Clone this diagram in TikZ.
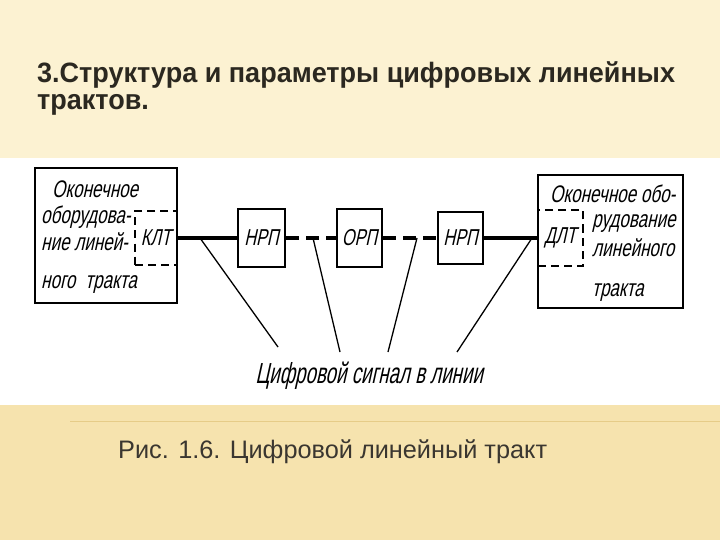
\documentclass[tikz,border=0pt]{standalone}
\usepackage{fontspec}
\setmainfont{Liberation Sans}
\newfontfamily\titlefont[FakeStretch=0.965]{Liberation Sans}
\newfontfamily\gostfont[FakeSlant=0.22,FakeStretch=0.71]{Liberation Sans}
\newfontfamily\gostnarrow[FakeSlant=0.22,FakeStretch=0.645]{Liberation Sans}
\definecolor{slidetop}{HTML}{FCF2D2}
\definecolor{slidebot}{HTML}{F6E3AE}
\definecolor{rulegold}{HTML}{E6CC88}
\definecolor{titleink}{HTML}{2B2820}
\definecolor{capink}{HTML}{3A3630}
\tikzset{
  box/.style={draw, line width=2pt, inner sep=0pt},
  dbox/.style={draw, line width=2pt, dash pattern=on 8pt off 5pt, inner sep=0pt},
  boxtext/.style={inner sep=0pt, anchor=base west, font=\gostfont\fontsize{24}{26}\selectfont},
  tag/.style={font=\gostfont\fontsize{23}{24}\selectfont},
  sigline/.style={line width=4.5pt},
  dashline/.style={sigline, dash pattern=on 13pt off 7pt},
  pointer/.style={line width=1.3pt}
}
\begin{document}
\begin{tikzpicture}[x=1pt,y=-1pt]
  \useasboundingbox (0,0) rectangle (720,540);
  % slide background
  \fill[slidetop] (0,0) rectangle (720,158);
  \fill[white] (0,158) rectangle (720,405);
  \fill[slidebot] (0,405) rectangle (720,540);
  \draw[rulegold, line width=1pt] (70,421) -- (720,421);

  \node[inner sep=0pt, anchor=base west, align=left, text=titleink,
        font=\titlefont\bfseries\fontsize{28}{25}\selectfont] (title) at (37,110)
        {3.Структура и параметры цифровых линейных\\[2pt]трактов.};

  % terminal equipment, left
  \node[box, minimum width=142pt, minimum height=135pt] (leftend) at (106,235.5) {};
  \node[dbox, tag, minimum width=42pt, minimum height=53pt] (klt) at (156,238) {КЛТ};
  \node[boxtext] (lt1) at (52,198) {Оконечное};
  \node[boxtext] (lt2) at (41,224) {оборудова-};
  \node[boxtext] (lt3) at (41,251) {ние линей-};
  \node[boxtext] (lt4) at (41,288) {ного\hspace{10pt}тракта};

  % regenerators
  \node[box, tag, minimum width=47pt, minimum height=58pt] (nrp1) at (261.5,238) {НРП};
  \node[box, tag, minimum width=45pt, minimum height=57pt] (orp) at (359.5,238) {ОРП};
  \node[box, tag, minimum width=45pt, minimum height=52pt] (nrp2) at (460.5,238) {НРП};

  % terminal equipment, right
  \node[box, minimum width=145pt, minimum height=133pt] (rightend) at (610.5,241.5) {};
  \node[dbox, tag, minimum width=45pt, minimum height=55pt] (dlt) at (560.5,238) {ДЛТ};
  \node[boxtext] (rt1) at (550,203) {Оконечное обо-};
  \node[boxtext] (rt2) at (592,228) {рудование};
  \node[boxtext] (rt3) at (592,256) {линейного};
  \node[boxtext] (rt4) at (592,296) {тракта};

  % line path
  \draw[sigline] (klt.east) -- (nrp1.west);
  \draw[dashline] (nrp1.east) -- (orp.west);
  \draw[dashline] (orp.east) -- (nrp2.west);
  \draw[sigline] (nrp2.east) -- (dlt.west);

  % signal label and pointers
  \node[inner sep=0pt, anchor=base, font=\gostnarrow\fontsize{29}{30}\selectfont] (sig) at (369,383) {Цифровой сигнал в линии};
  \coordinate (s1) at (200,238);
  \coordinate (s2) at (313,238);
  \coordinate (s3) at (417,238);
  \coordinate (s4) at (532,238);
  \coordinate (e1) at (278,347);
  \coordinate (e2) at (340,352);
  \coordinate (e3) at (388,352);
  \coordinate (e4) at (457,352);
  \foreach \a/\b in {s1/e1, s2/e2, s3/e3, s4/e4}
    \draw[pointer] (\a) -- (\b);

  \node[inner sep=0pt, anchor=base west, text=capink,
        font=\fontsize{25.3}{28}\selectfont] (caption) at (118,458)
        {Рис. 1.6. Цифровой линейный тракт};
\end{tikzpicture}
\end{document}
